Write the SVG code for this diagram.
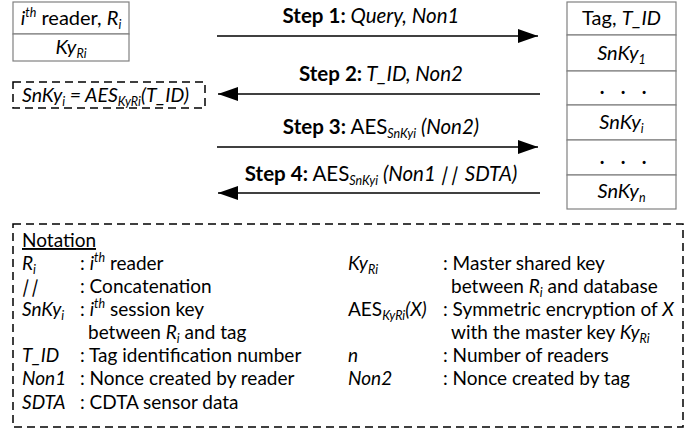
<svg xmlns="http://www.w3.org/2000/svg" width="686" height="439" viewBox="0 0 686 439">
<defs>
<style>
text{font-family:Lato,"Open Sans","Liberation Sans",sans-serif;font-size:19px;fill:#000}
.i{font-style:italic}
.b{font-weight:bold}
.s{font-size:12.5px}
.hd{font-size:20px}
.st{font-size:20.5px}
.box{fill:#fff;stroke:#808080;stroke-width:1.2}
.dash{fill:none;stroke:#000;stroke-width:1.5;stroke-dasharray:8 5}
.arr{stroke:#000;stroke-width:1.7;fill:none;marker-end:url(#ah)}
.c{text-anchor:middle}
</style>
<marker id="ah" markerUnits="userSpaceOnUse" markerWidth="22" markerHeight="14" refX="20" refY="7" orient="auto">
<path d="M0,0 L20,7 L0,14 Z" fill="#000"/>
</marker>
</defs>
<rect width="686" height="439" fill="#fff"/>

<g id="reader">
<rect class="box" x="13" y="2" width="116" height="32"/>
<rect class="box" x="13" y="34" width="116" height="27"/>
<text class="c hd" x="71" y="25"><tspan class="i">i</tspan><tspan class="i s" dy="-8">th</tspan><tspan dy="8"> reader, </tspan><tspan class="i">R</tspan><tspan class="i s" dy="4">i</tspan></text>
<text class="c hd" x="71" y="54"><tspan class="i">Ky</tspan><tspan class="i s" dy="4">Ri</tspan></text>
</g>

<g id="session-key">
<rect class="dash" x="13" y="82" width="192" height="26"/>
<text x="22" y="102" style="font-size:19.5px"><tspan class="i">SnKy</tspan><tspan class="i s" dy="4">i</tspan><tspan class="i" dy="-4"> = AES</tspan><tspan class="i s" dy="4">KyRi</tspan><tspan class="i" dy="-4">(T_ID)</tspan></text>
</g>

<g id="tag">
<rect class="box" x="567" y="2" width="109" height="33"/>
<rect class="box" x="567" y="35" width="109" height="36"/>
<rect class="box" x="567" y="71" width="109" height="34"/>
<rect class="box" x="567" y="105" width="109" height="35"/>
<rect class="box" x="567" y="140" width="109" height="35"/>
<rect class="box" x="567" y="175" width="109" height="34"/>
<text class="c hd" x="621.5" y="25">Tag, <tspan class="i">T_ID</tspan></text>
<text class="c hd" x="621.5" y="60"><tspan class="i">SnKy</tspan><tspan class="i s" dy="4">1</tspan></text>
<text class="c b hd"><tspan x="602" y="94">.</tspan><tspan x="623" y="94">.</tspan><tspan x="644" y="94">.</tspan></text>
<text class="c hd" x="621.5" y="129"><tspan class="i">SnKy</tspan><tspan class="i s" dy="4">i</tspan></text>
<text class="c b hd"><tspan x="602" y="164">.</tspan><tspan x="623" y="164">.</tspan><tspan x="644" y="164">.</tspan></text>
<text class="c hd" x="621.5" y="198"><tspan class="i">SnKy</tspan><tspan class="i s" dy="4">n</tspan></text>
</g>

<g id="connectors">
<line class="arr" x1="217" y1="36" x2="538" y2="36"/>
<line class="arr" x1="540" y1="94" x2="218" y2="94"/>
<line class="arr" x1="217" y1="147" x2="538" y2="147"/>
<line class="arr" x1="540" y1="193" x2="218" y2="193"/>
</g>

<g id="labels">
<text class="c st" x="371" y="23"><tspan class="b">Step 1:</tspan><tspan class="i"> Query, Non1</tspan></text>
<text class="c st" x="381" y="81"><tspan class="b">Step 2:</tspan><tspan class="i"> T_ID, Non2</tspan></text>
<text class="c st" x="381" y="134"><tspan class="b">Step 3:</tspan> AES<tspan class="i s" dy="4">SnKyi</tspan><tspan class="i" dy="-4"> (Non2)</tspan></text>
<text class="c st" x="381" y="181"><tspan class="b">Step 4:</tspan> AES<tspan class="i s" dy="4">SnKyi</tspan><tspan class="i" dy="-4"> (Non1 </tspan><tspan class="i" rotate="14 0 14">| |</tspan><tspan class="i" dx="4"> SDTA)</tspan></text>
</g>

<g id="notation">
<rect class="dash" x="13" y="224" width="670" height="203"/>
<text x="22" y="247" text-decoration="underline">Notation</text>
<text x="22" y="270"><tspan class="i">R</tspan><tspan class="i s" dy="4">i</tspan></text>
<text x="80" y="270">: <tspan class="i">i</tspan><tspan class="i s" dy="-8">th</tspan><tspan dy="8"> reader</tspan></text>
<text x="22" y="293" class="i" rotate="14 0 14">| |</text>
<text x="80" y="293">: Concatenation</text>
<text x="22" y="316"><tspan class="i">SnKy</tspan><tspan class="i s" dy="4">i</tspan></text>
<text x="80" y="316">: <tspan class="i">i</tspan><tspan class="i s" dy="-8">th</tspan><tspan dy="8"> session key</tspan></text>
<text x="88" y="339">between <tspan class="i">R</tspan><tspan class="i s" dy="4">i</tspan><tspan dy="-4"> and tag</tspan></text>
<text x="22" y="362" class="i">T_ID</text>
<text x="80" y="362">: Tag identification number</text>
<text x="22" y="385" class="i">Non1</text>
<text x="80" y="385">: Nonce created by reader</text>
<text x="22" y="409" class="i">SDTA</text>
<text x="80" y="409">: CDTA sensor data</text>

<text x="348" y="270"><tspan class="i">Ky</tspan><tspan class="i s" dy="4">Ri</tspan></text>
<text x="443" y="270">: Master shared key</text>
<text x="451" y="293">between <tspan class="i">R</tspan><tspan class="i s" dy="4">i</tspan><tspan dy="-4"> and database</tspan></text>
<text x="348" y="316">AES<tspan class="i s" dy="4">KyRi</tspan><tspan class="i" dy="-4">(X)</tspan></text>
<text x="443" y="316">: Symmetric encryption of <tspan class="i">X</tspan></text>
<text x="451" y="339">with the master key <tspan class="i">Ky</tspan><tspan class="i s" dy="4">Ri</tspan></text>
<text x="348" y="362" class="i">n</text>
<text x="443" y="362">: Number of readers</text>
<text x="348" y="385" class="i">Non2</text>
<text x="443" y="385">: Nonce created by tag</text>
</g>
</svg>
